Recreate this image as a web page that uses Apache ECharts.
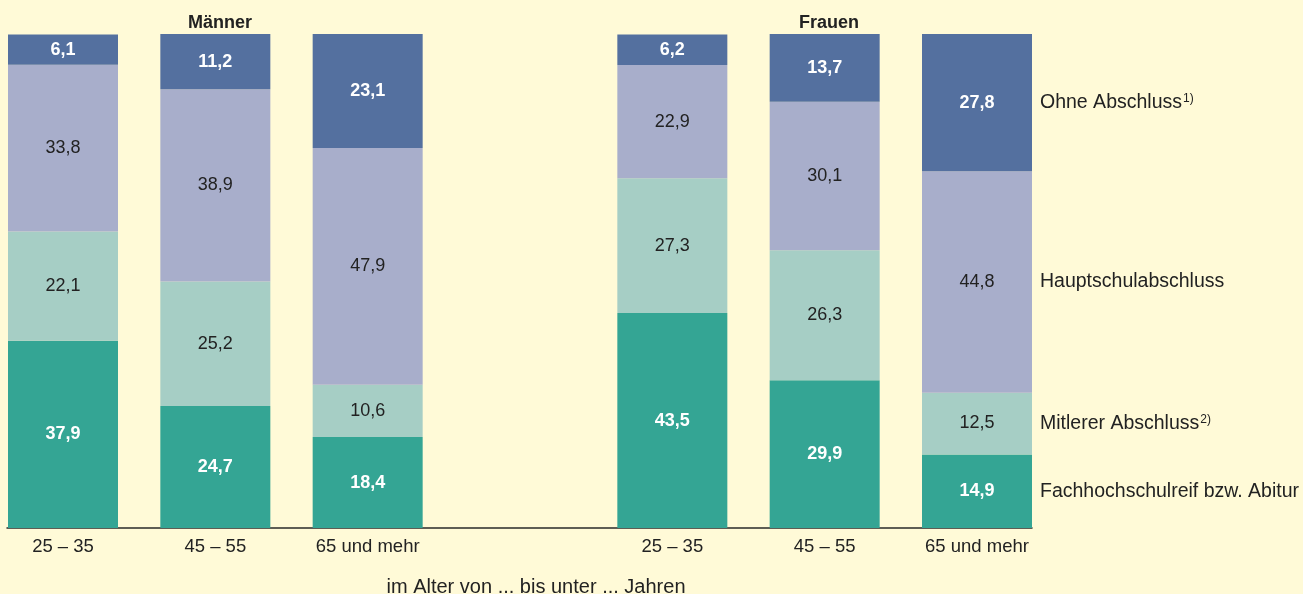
<!DOCTYPE html>
<html>
<head>
<meta charset="utf-8">
<script src="https://cdn.jsdelivr.net/npm/echarts@6/dist/echarts.min.js"></script>
<style>
html,body{margin:0;padding:0;background:#fffad7;}
#chart{width:1303px;height:594px;}
</style>
</head>
<body>
<div id="chart"></div>
<script>
// categories (one empty slot between the two groups)
const categories = ['25 – 35', '45 – 55', '65 und mehr', '', '25 – 35', '45 – 55', '65 und mehr'];
const groupTitles = ['Männer', 'Frauen'];
const seriesNames = ['Fachhochschulreif bzw. Abitur', 'Mitlerer Abschluss', 'Hauptschulabschluss', 'Ohne Abschluss'];
const seriesSup = ['', '2)', '', '1)'];
const fachhoch  = [37.9, 24.7, 18.4, null, 43.5, 29.9, 14.9];
const mittlerer = [22.1, 25.2, 10.6, null, 27.3, 26.3, 12.5];
const haupt     = [33.8, 38.9, 47.9, null, 22.9, 30.1, 44.8];
const ohne      = [6.1, 11.2, 23.1, null, 6.2, 13.7, 27.8];
const xAxisTitle = 'im Alter von ... bis unter ... Jahren';

const values = [fachhoch, mittlerer, haupt, ohne];
const colors = ['#34a594', '#a6cec5', '#a8aecb', '#54709f'];
const labelStyles = [
  {color: '#ffffff', fontWeight: 'bold'},
  {color: '#222222', fontWeight: 'normal'},
  {color: '#222222', fontWeight: 'normal'},
  {color: '#ffffff', fontWeight: 'bold'}
];

// midpoints of the segments of the last bar -> legend label positions
const lastIdx = categories.length - 1;
const mids = [];
let cum = 0;
values.forEach(arr => {
  mids.push(+(cum + arr[lastIdx] / 2).toFixed(3));
  cum += arr[lastIdx];
});

const fmt = v => v.toFixed(1).replace('.', ',');
const FONT = '"Liberation Sans", Arial, sans-serif';

const series = values.map((arr, i) => ({
  name: seriesNames[i],
  type: 'bar',
  stack: 'total',
  xAxisIndex: 0,
  yAxisIndex: 0,
  barWidth: 110,
  clip: false,
  itemStyle: {color: colors[i]},
  label: Object.assign({
    show: true,
    position: 'inside',
    fontSize: 18,
    fontFamily: FONT,
    formatter: p => fmt(p.value)
  }, labelStyles[i]),
  data: arr
}));

const chart = echarts.init(document.getElementById('chart'));
chart.setOption({
  backgroundColor: '#fffad7',
  animation: false,
  title: [
    {text: groupTitles[0], left: 215, top: 9, textAlign: 'center',
     textStyle: {fontSize: 18, fontWeight: 'bold', color: '#222', fontFamily: FONT}},
    {text: groupTitles[1], left: 824, top: 9, textAlign: 'center',
     textStyle: {fontSize: 18, fontWeight: 'bold', color: '#222', fontFamily: FONT}},
    {text: xAxisTitle, left: 531, top: 572, textAlign: 'center',
     textStyle: {fontSize: 20, fontWeight: 'normal', color: '#222', fontFamily: FONT}}
  ],
  grid: [
    {left: 63, right: 326, top: 34, bottom: 66, containLabel: false},
    {left: 7, right: 271, top: 34, bottom: 66, containLabel: false}
  ],
  xAxis: [
    {
      type: 'category',
      gridIndex: 0,
      data: categories,
      boundaryGap: false,
      axisLine: {show: false},
      axisTick: {show: false},
      splitLine: {show: false},
      axisLabel: {margin: 9, fontSize: 18.5, color: '#222', fontFamily: FONT, interval: 0}
    },
    {
      type: 'value',
      gridIndex: 1,
      min: 0,
      max: 1,
      axisLine: {show: true, onZero: false, lineStyle: {color: '#2a2a2a', width: 1.5}},
      axisTick: {show: false},
      splitLine: {show: false},
      axisLabel: {show: false}
    }
  ],
  yAxis: [
    {
      type: 'value',
      gridIndex: 0,
      min: 0,
      max: 100,
      show: false
    },
    {
      type: 'value',
      gridIndex: 1,
      min: 0,
      max: 100,
      position: 'right',
      axisLine: {show: false},
      axisTick: {show: false},
      splitLine: {show: false},
      axisLabel: {
        customValues: mids,
        margin: 8,
        align: 'left',
        fontSize: 19.5,
        color: '#222',
        fontFamily: FONT,
        formatter: v => {
          let best = 0, bd = Infinity;
          mids.forEach((m, i) => { const d = Math.abs(m - v); if (d < bd) { bd = d; best = i; } });
          return seriesNames[best] + (seriesSup[best] ? '{sup|' + seriesSup[best] + '}' : '');
        },
        rich: {
          sup: {fontSize: 12, color: '#222', fontFamily: FONT, verticalAlign: 'top', padding: [0, 0, 8, 1]}
        }
      }
    }
  ],
  series: series
});
</script>
</body>
</html>
